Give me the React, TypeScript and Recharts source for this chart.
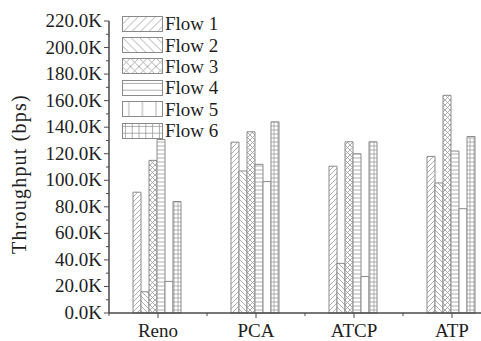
import React from 'react';
import { BarChart, Bar, XAxis, YAxis } from 'recharts';

const protocols = ['Reno', 'PCA', 'ATCP', 'ATP'];
const flow1 = [91000, 128700, 110600, 118000];
const flow2 = [16000, 107000, 37400, 98000];
const flow3 = [115000, 136500, 129000, 164000];
const flow4 = [130700, 112000, 120000, 122000];
const flow5 = [23800, 99000, 27500, 78600];
const flow6 = [84000, 144000, 129000, 133000];
const flowNames = ['Flow 1', 'Flow 2', 'Flow 3', 'Flow 4', 'Flow 5', 'Flow 6'];
const flowKeys = ['f1', 'f2', 'f3', 'f4', 'f5', 'f6'];
const yTicks = [
  0, 10000, 20000, 30000, 40000, 50000, 60000, 70000, 80000, 90000, 100000, 110000,
  120000, 130000, 140000, 150000, 160000, 170000, 180000, 190000, 200000, 210000, 220000,
];

const data = protocols.map((p, i) => ({
  name: p,
  f1: flow1[i],
  f2: flow2[i],
  f3: flow3[i],
  f4: flow4[i],
  f5: flow5[i],
  f6: flow6[i],
}));

const FONT = '"Liberation Serif", serif';
const AXIS = '#4a4a4a';
const HATCH = '#9a9a9a';
const EDGE = '#8a8a8a';

// plot geometry (plot area runs past the right edge of the picture, like the original)
const AXIS_X = 109;
const AXIS_Y = 313;
const BAND = 98;

// hatch patterns; legend versions are drawn at a coarser scale
const Patterns = ({ s, id }: { s: number; id: string }) => {
  const d = 5 * s;
  const h = 4 * s;
  const common = { stroke: HATCH, strokeWidth: 0.8, fill: 'none' };
  return (
    <>
      <pattern id={`p1${id}`} width={d} height={d} patternUnits="userSpaceOnUse">
        <rect width={d} height={d} fill="#fff" />
        <path d={`M${-d / 4},${d / 4} L${d / 4},${-d / 4} M0,${d} L${d},0 M${(3 * d) / 4},${(5 * d) / 4} L${(5 * d) / 4},${(3 * d) / 4}`} {...common} />
      </pattern>
      <pattern id={`p2${id}`} width={d} height={d} patternUnits="userSpaceOnUse">
        <rect width={d} height={d} fill="#fff" />
        <path d={`M${-d / 4},${(3 * d) / 4} L${d / 4},${(5 * d) / 4} M0,0 L${d},${d} M${(3 * d) / 4},${-d / 4} L${(5 * d) / 4},${d / 4}`} {...common} />
      </pattern>
      <pattern id={`p3${id}`} width={d} height={d} patternUnits="userSpaceOnUse">
        <rect width={d} height={d} fill="#fff" />
        <path d={`M0,0 L${d},${d} M0,${d} L${d},0`} {...common} />
      </pattern>
      <pattern id={`p4${id}`} width={h} height={h} patternUnits="userSpaceOnUse">
        <rect width={h} height={h} fill="#fff" />
        <path d={`M0,${h / 2} L${h},${h / 2}`} {...common} />
      </pattern>
      <pattern id={`p5${id}`} width={h * 2} height={h} patternUnits="userSpaceOnUse">
        <rect width={h * 2} height={h} fill="#fff" />
        {s > 1 && <path d={`M${h},0 L${h},${h}`} {...common} />}
      </pattern>
      <pattern id={`p6${id}`} width={h} height={h} patternUnits="userSpaceOnUse">
        <rect width={h} height={h} fill="#fff" />
        <path d={`M0,${h / 2} L${h},${h / 2} M${h / 2},0 L${h / 2},${h}`} {...common} />
      </pattern>
    </>
  );
};

const YTick = (props: any) => {
  const { y, payload } = props;
  const v = payload.value as number;
  const major = v % 20000 === 0;
  return (
    <g>
      <line x1={AXIS_X - (major ? 5 : 3)} x2={AXIS_X} y1={y} y2={y} stroke={AXIS} strokeWidth={1} />
      {major && (
        <text x={AXIS_X - 7} y={y + 6} textAnchor="end" fontFamily={FONT} fontSize={19} fill="#1e1e1e">
          {(v / 1000).toFixed(1) + 'K'}
        </text>
      )}
    </g>
  );
};

const XTick = (props: any) => {
  const { x, payload } = props;
  return (
    <g>
      <line x1={x} x2={x} y1={AXIS_Y} y2={AXIS_Y + 5} stroke={AXIS} strokeWidth={1} />
      <line x1={x - BAND / 2} x2={x - BAND / 2} y1={AXIS_Y} y2={AXIS_Y + 3} stroke={AXIS} strokeWidth={1} />
      <text x={x} y={AXIS_Y + 24} textAnchor="middle" fontFamily={FONT} fontSize={19} fill="#1e1e1e">
        {payload.value}
      </text>
    </g>
  );
};

const YTitle = () => (
  <text
    transform="rotate(-90)"
    x={-174}
    y={26}
    textAnchor="middle"
    fontFamily={FONT}
    fontSize={20}
    letterSpacing={1.2}
    fill="#1e1e1e"
  >
    Throughput (bps)
  </text>
);

const FlowLegend = () => (
  <div style={{ position: 'absolute', left: 122, top: 13, fontFamily: FONT, fontSize: 19, color: '#1e1e1e' }}>
    {flowNames.map((n, i) => (
      <div key={n} style={{ display: 'flex', alignItems: 'center', height: 21.4 }}>
        <svg width={41} height={16} style={{ display: 'block' }}>
          <rect x={0.5} y={0.5} width={40} height={15} fill={`url(#p${i + 1}L)`} stroke={EDGE} strokeWidth={1} />
        </svg>
        <span style={{ marginLeft: 2, lineHeight: '19px' }}>{n}</span>
      </div>
    ))}
  </div>
);

export default function App() {
  return (
    <div
      style={{
        position: 'absolute',
        left: 0,
        top: 0,
        width: 481,
        height: 341,
        overflow: 'hidden',
        background: '#fff',
      }}
    >
      <BarChart
        width={510}
        height={341}
        data={data}
        margin={{ top: 21, right: 9, bottom: 0, left: 0 }}
        barCategoryGap={24}
        barGap={0}
      >
        <defs>
          <Patterns s={1} id="" />
          <Patterns s={1.7} id="L" />
        </defs>
        <XAxis
          dataKey="name"
          height={28}
          axisLine={{ stroke: AXIS, strokeWidth: 1.5 }}
          tickLine={false}
          tick={<XTick />}
          interval={0}
        />
        <YAxis
          width={109}
          domain={[0, 220000]}
          ticks={yTicks}
          interval={0}
          axisLine={{ stroke: AXIS, strokeWidth: 1.5 }}
          tickLine={false}
          tick={<YTick />}
          label={<YTitle />}
        />
        {flowKeys.map((k, i) => (
          <Bar
            key={k}
            dataKey={k}
            name={flowNames[i]}
            fill={`url(#p${i + 1})`}
            stroke={EDGE}
            strokeWidth={1}
            isAnimationActive={false}
          />
        ))}
      </BarChart>
      <FlowLegend />
    </div>
  );
}
